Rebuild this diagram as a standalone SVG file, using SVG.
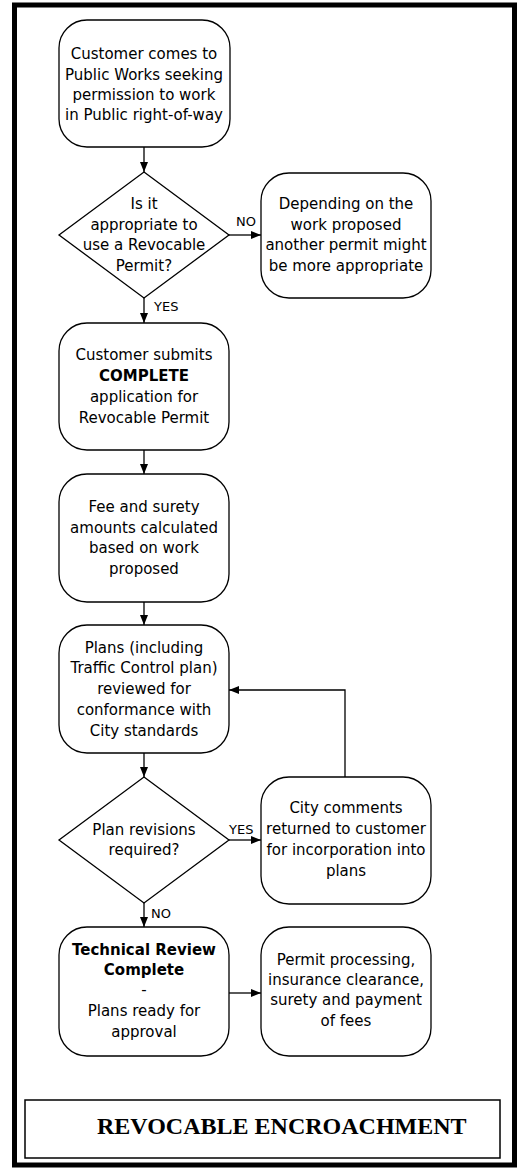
<svg xmlns="http://www.w3.org/2000/svg" width="521" height="1170" viewBox="0 0 521 1170">
<style>
.box{fill:#fff;stroke:#000;stroke-width:1.3}
.t{font-family:"DejaVu Sans",Verdana,sans-serif;font-size:15px;text-anchor:middle;fill:#000}
.b{font-weight:bold}
.lbl{font-family:"DejaVu Sans",Verdana,sans-serif;font-size:13px;fill:#000}
.c{fill:none;stroke:#000;stroke-width:1.3}
</style>
<defs>
<marker id="arr" markerWidth="10" markerHeight="8" refX="10" refY="4" orient="auto" markerUnits="userSpaceOnUse">
<path d="M0,0 L10,4 L0,8 Z" fill="#000"/>
</marker>
</defs>
<rect x="14.5" y="5" width="500" height="1160" fill="#fff" stroke="#000" stroke-width="5"/>
<g id="connectors">
<line class="c" x1="144" y1="147" x2="144" y2="172" marker-end="url(#arr)"/>
<line class="c" x1="229" y1="235" x2="261" y2="235" marker-end="url(#arr)"/>
<line class="c" x1="144" y1="298" x2="144" y2="323" marker-end="url(#arr)"/>
<line class="c" x1="144" y1="450" x2="144" y2="474" marker-end="url(#arr)"/>
<line class="c" x1="144" y1="602" x2="144" y2="625" marker-end="url(#arr)"/>
<line class="c" x1="144" y1="753" x2="144" y2="777" marker-end="url(#arr)"/>
<line class="c" x1="229" y1="840" x2="261" y2="840" marker-end="url(#arr)"/>
<polyline class="c" points="345,777 345,690 229,690" marker-end="url(#arr)"/>
<line class="c" x1="144" y1="903" x2="144" y2="927" marker-end="url(#arr)"/>
<line class="c" x1="229" y1="993" x2="261" y2="993" marker-end="url(#arr)"/>
<text class="lbl" x="236" y="226">NO</text>
<text class="lbl" x="154" y="311">YES</text>
<text class="lbl" x="229" y="834">YES</text>
<text class="lbl" x="151" y="918">NO</text>
</g>
<g id="n1">
<rect class="box" x="59" y="20" width="171" height="127" rx="28"/>
<text class="t" x="144" y="59">Customer comes to</text>
<text class="t" x="144" y="80">Public Works seeking</text>
<text class="t" x="144" y="100">permission to work</text>
<text class="t" x="144" y="120">in Public right-of-way</text>
</g>
<g id="d1">
<polygon class="box" points="144,172 229,235 144,298 59,235"/>
<text class="t" x="144" y="209">Is it</text>
<text class="t" x="144" y="230">appropriate to</text>
<text class="t" x="144" y="250">use a Revocable</text>
<text class="t" x="144" y="271">Permit?</text>
</g>
<g id="n2">
<rect class="box" x="261" y="173" width="170" height="125" rx="28"/>
<text class="t" x="346" y="209">Depending on the</text>
<text class="t" x="346" y="230">work proposed</text>
<text class="t" x="346" y="250">another permit might</text>
<text class="t" x="346" y="271">be more appropriate</text>
</g>
<g id="n3">
<rect class="box" x="59" y="323" width="170" height="127" rx="28"/>
<text class="t" x="144" y="360">Customer submits</text>
<text class="t b" x="144" y="381">COMPLETE</text>
<text class="t" x="144" y="402">application for</text>
<text class="t" x="144" y="423">Revocable Permit</text>
</g>
<g id="n4">
<rect class="box" x="59" y="474" width="170" height="128" rx="28"/>
<text class="t" x="144" y="512">Fee and surety</text>
<text class="t" x="144" y="533">amounts calculated</text>
<text class="t" x="144" y="553">based on work</text>
<text class="t" x="144" y="574">proposed</text>
</g>
<g id="n5">
<rect class="box" x="59" y="625" width="170" height="128" rx="28"/>
<text class="t" x="144" y="653">Plans (including</text>
<text class="t" x="144" y="673">Traffic Control plan)</text>
<text class="t" x="144" y="694">reviewed for</text>
<text class="t" x="144" y="715">conformance with</text>
<text class="t" x="144" y="736">City standards</text>
</g>
<g id="d2">
<polygon class="box" points="144,777 229,840 144,903 59,840"/>
<text class="t" x="144" y="835">Plan revisions</text>
<text class="t" x="144" y="855">required?</text>
</g>
<g id="n6">
<rect class="box" x="261" y="777" width="170" height="127" rx="28"/>
<text class="t" x="346" y="813">City comments</text>
<text class="t" x="346" y="834">returned to customer</text>
<text class="t" x="346" y="855">for incorporation into</text>
<text class="t" x="346" y="876">plans</text>
</g>
<g id="n7">
<rect class="box" x="59" y="927" width="170" height="129" rx="28"/>
<text class="t b" x="144" y="955">Technical Review</text>
<text class="t b" x="144" y="975">Complete</text>
<text class="t" x="144" y="995">-</text>
<text class="t" x="144" y="1016">Plans ready for</text>
<text class="t" x="144" y="1037">approval</text>
</g>
<g id="n8">
<rect class="box" x="261" y="927" width="170" height="129" rx="28"/>
<text class="t" x="346" y="965">Permit processing,</text>
<text class="t" x="346" y="985">insurance clearance,</text>
<text class="t" x="346" y="1005">surety and payment</text>
<text class="t" x="346" y="1026">of fees</text>
</g>
<g id="title">
<rect x="25" y="1100" width="475" height="58" fill="#fff" stroke="#000" stroke-width="1.5"/>
<text x="97" y="1134" font-family="'Liberation Serif','Times New Roman',serif" font-weight="bold" font-size="24">REVOCABLE ENCROACHMENT</text>
</g>
</svg>
